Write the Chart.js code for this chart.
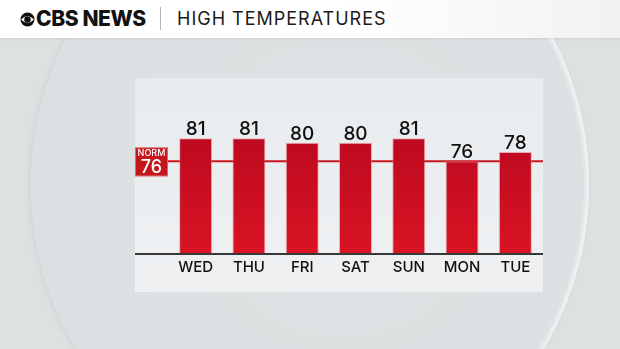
<!DOCTYPE html>
<html>
<head>
<meta charset="utf-8">
<script src="https://cdn.jsdelivr.net/npm/chart.js@4.4.1/dist/chart.umd.min.js"></script>
<style>
  html, body { margin: 0; padding: 0; }
  body {
    width: 620px; height: 349px; overflow: hidden; position: relative;
    background: #dde1e2;
    font-family: Inter, Lato, sans-serif;
  }
  .sphere {
    position: absolute; left: 31px; top: -115px; width: 558px; height: 600px;
    border-radius: 50%;
    background: radial-gradient(ellipse 100% 100% at 56% 50%, #dfe2e3 0%, #dcdfe1 78%, #d2d6d8 92%, #c9cdcf 100%);
    box-shadow: inset -3px 0 4px rgba(255,255,255,0.7), -2px 0 6px rgba(0,0,0,0.06);
  }
  .header {
    position: absolute; left: 0; top: 0; width: 620px; height: 38px;
    background: linear-gradient(90deg, #ffffff 0%, #ffffff 55%, #f1f2f3 100%);
    box-shadow: 0 1px 2px rgba(0,0,0,0.08);
  }
  .logo { position: absolute; left: 20px; top: 12px; }
  .brand {
    position: absolute; left: 36px; top: 8px; font-size: 21px; font-weight: 800;
    color: #111; letter-spacing: -0.4px; line-height: 22px;
  }
  .divider { position: absolute; left: 160px; top: 7px; width: 1px; height: 23px; background: #b5b5b5; }
  .title {
    position: absolute; left: 177px; top: 8px; font-size: 18px; font-weight: 400;
    color: #1a1a1a; letter-spacing: 1px; line-height: 22px;
  }
  .panel {
    position: absolute; left: 135px; top: 78px; width: 408px; height: 214px;
    background: linear-gradient(180deg, #e9ecee 0%, #eef0f2 100%);
  }
  canvas { position: absolute; left: 0; top: 0; }
</style>
</head>
<body>
<div class="sphere"></div>
<div class="header">
  <svg class="logo" width="15" height="15" viewBox="0 0 30 30">
    <circle cx="15" cy="15" r="14" fill="#111"/>
    <path d="M2 15 Q15 1 28 15 Q15 29 2 15 Z" fill="#fff"/>
    <circle cx="15" cy="15" r="6.5" fill="#111"/>
  </svg>
  <div class="brand">CBS NEWS</div>
  <div class="divider"></div>
  <div class="title">HIGH TEMPERATURES</div>
</div>
<div class="panel">
  <canvas id="tempChart" width="408" height="214"></canvas>
</div>
<script>
// Dados do gráfico
const days = ['WED', 'THU', 'FRI', 'SAT', 'SUN', 'MON', 'TUE'];
const highTemps = [81, 81, 80, 80, 81, 76, 78];
const normalHigh = 76;
const yMin = 56;
const yMax = 94;

// Linha normal, caixa NORM, linha de base e rótulos dos valores
const weatherPlugin = {
  id: 'weatherExtras',
  beforeDatasetsDraw(chart) {
    const { ctx, chartArea, scales } = chart;
    const y = scales.y.getPixelForValue(normalHigh);
    ctx.save();
    ctx.strokeStyle = '#c8161f';
    ctx.lineWidth = 2;
    ctx.beginPath();
    ctx.moveTo(0, y);
    ctx.lineTo(chartArea.right + 1, y);
    ctx.stroke();

    ctx.fillStyle = '#c3161d';
    ctx.fillRect(0, y - 14, 33, 29);
    ctx.strokeStyle = 'rgba(255,255,255,0.35)';
    ctx.lineWidth = 1;
    ctx.strokeRect(0.5, y - 13.5, 32, 28);
    ctx.fillStyle = '#ffffff';
    ctx.textAlign = 'center';
    ctx.textBaseline = 'alphabetic';
    ctx.font = '500 9px Inter';
    ctx.fillText('NORM', 16.5, y - 5);
    ctx.font = '500 18px Inter';
    ctx.fillText(String(normalHigh), 16.5, y + 12);
    ctx.restore();
  },
  afterDatasetsDraw(chart) {
    const { ctx, chartArea } = chart;
    ctx.save();
    ctx.strokeStyle = '#383838';
    ctx.lineWidth = 2;
    ctx.beginPath();
    ctx.moveTo(0, chartArea.bottom);
    ctx.lineTo(chartArea.right + 1, chartArea.bottom);
    ctx.stroke();

    const meta = chart.getDatasetMeta(0);
    ctx.fillStyle = '#111111';
    ctx.font = '500 19px Inter';
    ctx.textAlign = 'center';
    ctx.textBaseline = 'alphabetic';
    meta.data.forEach((bar, i) => {
      ctx.fillText(String(highTemps[i]), bar.x, bar.y - 3);
    });
    ctx.restore();
  }
};

const ctx = document.getElementById('tempChart').getContext('2d');
new Chart(ctx, {
  type: 'bar',
  data: {
    labels: days,
    datasets: [{
      label: 'High',
      data: highTemps,
      backgroundColor: (c) => {
        const area = c.chart.chartArea;
        if (!area) return '#c8102e';
        const g = c.chart.ctx.createLinearGradient(0, area.top + 60, 0, area.bottom);
        g.addColorStop(0, '#bd0920');
        g.addColorStop(1, '#d91423');
        return g;
      },
      borderColor: 'rgba(236,120,128,0.55)',
      borderWidth: 1,
      borderSkipped: 'bottom',
      barPercentage: 0.62,
      categoryPercentage: 1
    }]
  },
  options: {
    responsive: false,
    devicePixelRatio: 1,
    animation: false,
    layout: { padding: { left: 34, right: 1, top: 0, bottom: 0 } },
    plugins: { legend: { display: false }, tooltip: { enabled: false } },
    scales: {
      x: {
        grid: { display: false, drawTicks: false },
        border: { display: false },
        ticks: { color: '#111111', font: { family: 'Inter', size: 15, weight: '500' }, padding: 4, maxRotation: 0 },
        afterFit: (s) => { s.height = 38; }
      },
      y: {
        display: false,
        min: yMin,
        max: yMax
      }
    }
  },
  plugins: [weatherPlugin]
});
</script>
</body>
</html>
